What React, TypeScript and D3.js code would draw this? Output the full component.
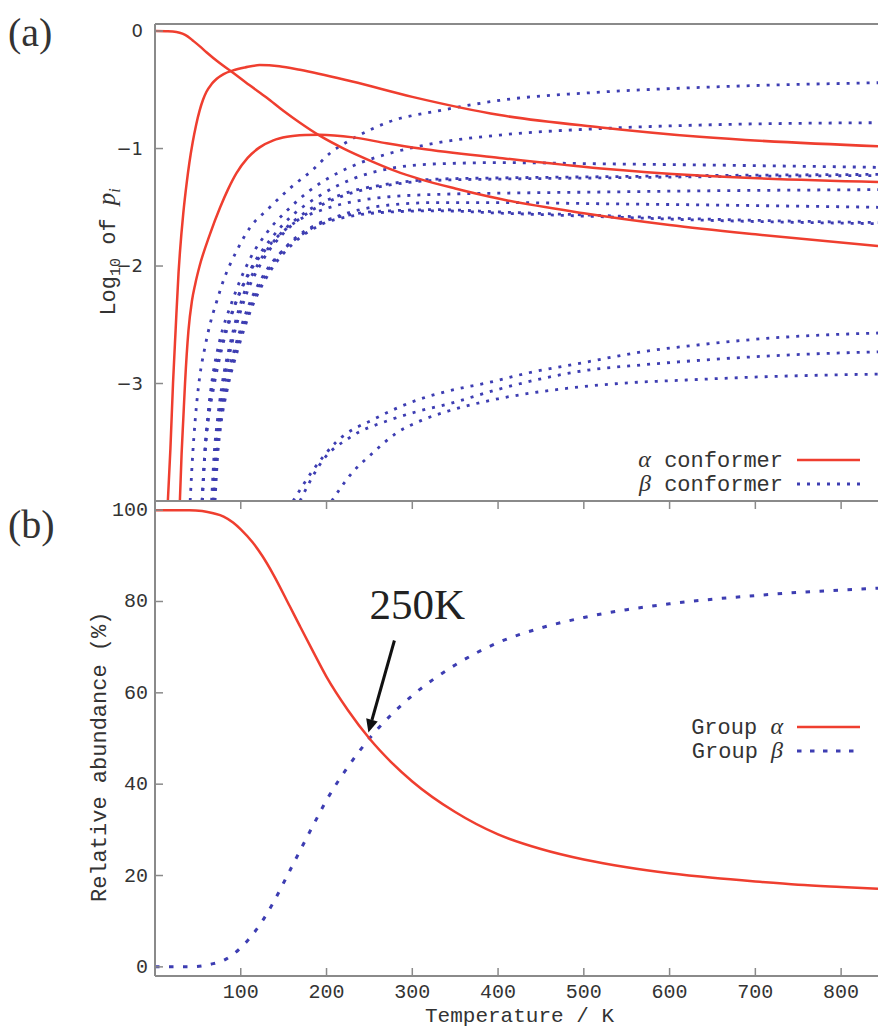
import { useEffect, useRef } from "react";
import * as d3 from "d3";

// ---------- panel (a): log10 of p_i, alpha conformers (solid red) ----------
const alpha1T = [0, 15, 25, 32, 38, 44, 52, 60, 75, 91, 110, 130, 150, 169, 192, 220, 250, 280, 309, 350, 403, 500, 600, 700, 843];
const alpha1V = [0, -0.002, -0.008, -0.022, -0.045, -0.08, -0.128, -0.18, -0.27, -0.355, -0.46, -0.565, -0.68, -0.78, -0.89, -1.0, -1.1, -1.19, -1.26, -1.34, -1.43, -1.55, -1.65, -1.73, -1.83];

const alpha2T = [15, 18, 21, 24, 27.5, 29, 33, 37, 40, 44, 48, 52, 56, 60, 66, 72, 80, 91, 105, 122, 145, 169, 230, 300, 402, 520, 635, 843];
const alpha2V = [-4, -3.55, -3.0, -2.55, -2.05, -1.89, -1.55, -1.29, -1.125, -0.945, -0.797, -0.677, -0.585, -0.517, -0.451, -0.406, -0.366, -0.335, -0.31, -0.29, -0.3, -0.33, -0.43, -0.56, -0.715, -0.82, -0.9, -0.98];

const alpha3T = [29, 31, 33, 35, 39, 43, 47, 52, 64, 76, 85, 95, 108, 122, 138, 154, 175, 192, 231, 270, 309, 402, 520, 635, 843];
const alpha3V = [-4, -3.6, -3.3, -3.0, -2.55, -2.3, -2.15, -2.0, -1.73, -1.5, -1.35, -1.21, -1.08, -0.99, -0.93, -0.9, -0.885, -0.882, -0.905, -0.955, -1.0, -1.08, -1.17, -1.23, -1.285];

// ---------- panel (a): beta conformers (dotted blue) ----------
const beta1T = [41, 44, 47, 52, 58, 64, 72, 79, 96, 111, 131, 157, 184, 204, 227, 251, 274, 330, 402, 519, 635, 843];
const beta1V = [-4, -3.6, -3.3, -2.95, -2.7, -2.5, -2.3, -2.14, -1.86, -1.67, -1.52, -1.34, -1.18, -1.04, -0.93, -0.84, -0.77, -0.68, -0.59, -0.52, -0.48, -0.44];

const beta2T = [55, 58, 62, 67, 75, 90, 110, 130, 155, 180, 210, 240, 274, 330, 402, 520, 635, 843];
const beta2V = [-4, -3.6, -3.25, -2.95, -2.65, -2.3, -1.95, -1.72, -1.52, -1.36, -1.22, -1.12, -1.04, -0.95, -0.885, -0.83, -0.8, -0.78];

const beta3T = [55, 58, 62, 67, 77, 92, 112, 135, 160, 190, 230, 274, 330, 402, 520, 640, 843];
const beta3V = [-4, -3.6, -3.28, -3.0, -2.68, -2.35, -2.02, -1.77, -1.57, -1.41, -1.26, -1.17, -1.13, -1.12, -1.13, -1.14, -1.16];

const beta4T = [68, 71, 75, 80, 90, 105, 125, 150, 180, 220, 274, 330, 402, 520, 640, 843];
const beta4V = [-4, -3.6, -3.3, -3.02, -2.65, -2.27, -1.96, -1.72, -1.54, -1.4, -1.31, -1.27, -1.26, -1.25, -1.24, -1.23];

const beta5T = [66, 69, 73, 78, 88, 102, 122, 147, 178, 218, 274, 330, 402, 520, 640, 843];
const beta5V = [-4, -3.6, -3.3, -3.02, -2.65, -2.27, -1.96, -1.72, -1.53, -1.39, -1.3, -1.26, -1.25, -1.24, -1.23, -1.22];

const beta6T = [55, 58, 62, 68, 78, 92, 110, 135, 165, 200, 240, 274, 330, 402, 520, 640, 843];
const beta6V = [-4, -3.62, -3.32, -3.05, -2.7, -2.36, -2.06, -1.81, -1.62, -1.51, -1.44, -1.41, -1.39, -1.38, -1.37, -1.36, -1.35];

const beta7T = [68, 71, 75, 81, 93, 108, 128, 150, 180, 220, 274, 330, 402, 520, 640, 843];
const beta7V = [-4, -3.6, -3.32, -3.05, -2.7, -2.36, -2.06, -1.86, -1.69, -1.56, -1.48, -1.46, -1.46, -1.47, -1.48, -1.5];

const beta8T = [69, 72, 76, 83, 95, 110, 130, 155, 190, 230, 274, 330, 402, 520, 640, 843];
const beta8V = [-4, -3.62, -3.34, -3.06, -2.7, -2.37, -2.06, -1.82, -1.64, -1.56, -1.53, -1.52, -1.54, -1.57, -1.6, -1.63];

const beta9T = [70, 73, 77, 84, 97, 112, 133, 158, 193, 233, 274, 330, 402, 520, 640, 843];
const beta9V = [-4, -3.62, -3.34, -3.06, -2.7, -2.37, -2.06, -1.83, -1.65, -1.57, -1.54, -1.53, -1.55, -1.58, -1.61, -1.64];

const beta10T = [161, 184, 211, 259, 306, 344, 390, 435, 501, 568, 635, 724, 843];
const beta10V = [-4, -3.74, -3.5, -3.29, -3.14, -3.06, -2.99, -2.91, -2.82, -2.73, -2.67, -2.61, -2.57];

const beta11T = [169, 196, 227, 274, 305, 344, 400, 450, 501, 570, 640, 730, 843];
const beta11V = [-4, -3.65, -3.46, -3.31, -3.24, -3.17, -3.05, -2.96, -2.89, -2.84, -2.8, -2.76, -2.73];

const beta12T = [206, 231, 251, 282, 312, 344, 400, 470, 540, 620, 720, 843];
const beta12V = [-4, -3.75, -3.61, -3.42, -3.31, -3.23, -3.13, -3.05, -3.0, -2.97, -2.94, -2.92];

// ---------- panel (b): relative abundance (%) ----------
const groupT = [0, 20, 40, 55, 68, 80, 91, 100, 114, 125, 138, 157, 169, 185, 200, 225, 250, 275, 300, 350, 400, 450, 500, 550, 600, 650, 700, 750, 800, 843];
const groupAlpha = [100, 100, 100, 99.8, 99.3, 98.6, 97.3, 95.8, 92.9, 90.0, 85.9, 79.0, 74.6, 68.8, 63.5, 56.2, 50.0, 44.9, 40.6, 33.9, 29.0, 25.8, 23.5, 21.8, 20.5, 19.5, 18.7, 18.0, 17.5, 17.1];
const groupBeta = [0, 0, 0, 0.2, 0.7, 1.4, 2.7, 4.2, 7.1, 10.0, 14.1, 21.0, 25.4, 31.2, 36.5, 43.8, 50.0, 55.1, 59.4, 66.1, 71.0, 74.2, 76.5, 78.2, 79.5, 80.5, 81.3, 82.0, 82.5, 82.9];

const xTicks = [100, 200, 300, 400, 500, 600, 700, 800];
const yTicksA = [0, -1, -2, -3];
const yTicksB = [0, 20, 40, 60, 80, 100];
const crossT = 250;
const crossV = 50;

const RED = "#ef3e2f";
const BLUE = "#3d3db2";
const FRAME = "#8a8a8a";
const TXT = "#333";
const MONO = "'Liberation Mono', 'Courier New', monospace";
const SERIF = "'Liberation Serif', 'Times New Roman', serif";
const SANS = "'DejaVu Sans', sans-serif";

export default function App() {
  const svgRef = useRef<SVGSVGElement>(null);

  useEffect(() => {
    const svg = d3.select(svgRef.current);
    svg.selectAll("*").remove();

    const x = d3.scaleLinear().domain([0, 850]).range([155, 884]);
    const yA = d3.scaleLinear().domain([-4, 0.06]).range([501, 24]);
    const yB = d3.scaleLinear().domain([-2, 102]).range([976, 501]);

    const zip = (ts: number[], vs: number[]) => ts.map((t, i) => [t, vs[i]] as [number, number]);

    const defs = svg.append("defs");
    defs.append("clipPath").attr("id", "clipA").append("rect")
      .attr("x", 156).attr("y", 25).attr("width", 730).attr("height", 475);
    defs.append("clipPath").attr("id", "clipB").append("rect")
      .attr("x", 156).attr("y", 502).attr("width", 730).attr("height", 473);

    const lineA = d3.line<[number, number]>().x((d) => x(d[0])).y((d) => yA(d[1])).curve(d3.curveMonotoneX);
    const lineB = d3.line<[number, number]>().x((d) => x(d[0])).y((d) => yB(d[1])).curve(d3.curveMonotoneX);

    // panel (a) curves
    const gA = svg.append("g").attr("clip-path", "url(#clipA)");
    const betaCurves = [
      zip(beta1T, beta1V), zip(beta2T, beta2V), zip(beta3T, beta3V), zip(beta4T, beta4V),
      zip(beta5T, beta5V), zip(beta6T, beta6V), zip(beta7T, beta7V), zip(beta8T, beta8V),
      zip(beta9T, beta9V), zip(beta10T, beta10V), zip(beta11T, beta11V), zip(beta12T, beta12V),
    ];
    gA.selectAll("path.beta").data(betaCurves).enter().append("path")
      .attr("class", "beta")
      .attr("d", (d) => lineA(d))
      .attr("fill", "none").attr("stroke", BLUE).attr("stroke-width", 2.8)
      .attr("stroke-dasharray", "3 7");
    const alphaCurves = [zip(alpha1T, alpha1V), zip(alpha2T, alpha2V), zip(alpha3T, alpha3V)];
    gA.selectAll("path.alpha").data(alphaCurves).enter().append("path")
      .attr("class", "alpha")
      .attr("d", (d) => lineA(d))
      .attr("fill", "none").attr("stroke", RED).attr("stroke-width", 2.5);

    // panel (b) curves
    const gB = svg.append("g").attr("clip-path", "url(#clipB)");
    gB.append("path").attr("d", lineB(zip(groupT, groupBeta)))
      .attr("fill", "none").attr("stroke", BLUE).attr("stroke-width", 3)
      .attr("stroke-dasharray", "4.5 9.5");
    gB.append("path").attr("d", lineB(zip(groupT, groupAlpha)))
      .attr("fill", "none").attr("stroke", RED).attr("stroke-width", 2.5);

    // frames
    const fr = svg.append("g").attr("stroke", FRAME).attr("stroke-width", 2);
    fr.append("line").attr("x1", x(0)).attr("x2", x(0)).attr("y1", yA(0.06)).attr("y2", yB(-2));
    fr.append("line").attr("x1", x(0)).attr("x2", 878).attr("y1", yA(0.06)).attr("y2", yA(0.06));
    fr.append("line").attr("x1", x(0)).attr("x2", 878).attr("y1", yA(-4)).attr("y2", yA(-4));
    fr.append("line").attr("x1", x(0)).attr("x2", 878).attr("y1", yB(-2)).attr("y2", yB(-2));

    // ticks
    const tk = svg.append("g").attr("stroke", FRAME).attr("stroke-width", 1.5);
    yTicksA.forEach((t) => {
      tk.append("line").attr("x1", x(0)).attr("x2", x(0) + 8).attr("y1", yA(t)).attr("y2", yA(t));
    });
    yTicksB.forEach((t) => {
      tk.append("line").attr("x1", x(0)).attr("x2", x(0) + 8).attr("y1", yB(t)).attr("y2", yB(t));
    });
    xTicks.forEach((t) => {
      tk.append("line").attr("x1", x(t)).attr("x2", x(t)).attr("y1", yB(-2)).attr("y2", yB(-2) - 8);
      tk.append("line").attr("x1", x(t)).attr("x2", x(t)).attr("y1", yA(-4)).attr("y2", yA(-4) + 8);
    });

    // tick labels
    svg.append("g").selectAll("text").data(yTicksA).enter().append("text")
      .attr("x", 143).attr("y", (d) => yA(d) + 6)
      .attr("text-anchor", "end").attr("font-family", SANS).attr("font-size", 18).attr("fill", TXT)
      .text((d) => (d < 0 ? "\u2212" + Math.abs(d) : String(d)));
    svg.append("g").selectAll("text").data(yTicksB).enter().append("text")
      .attr("x", 148).attr("y", (d) => yB(d) + 6)
      .attr("text-anchor", "end").attr("font-family", MONO).attr("font-size", 20).attr("fill", TXT)
      .text((d) => String(d));
    svg.append("g").selectAll("text").data(xTicks).enter().append("text")
      .attr("x", (d) => x(d)).attr("y", 998)
      .attr("text-anchor", "middle").attr("font-family", MONO).attr("font-size", 20).attr("fill", TXT)
      .text((d) => String(d));

    // axis titles
    svg.append("text").attr("x", x(425)).attr("y", 1022)
      .attr("text-anchor", "middle").attr("font-family", MONO).attr("font-size", 21).attr("fill", TXT)
      .text("Temperature / K");
    svg.append("text").attr("transform", `translate(106, ${yB(46)}) rotate(-90)`)
      .attr("text-anchor", "middle").attr("font-family", MONO).attr("font-size", 22).attr("fill", TXT)
      .text("Relative abundance (%)");
    const ta = svg.append("text").attr("transform", `translate(115, ${yA(-1.88)}) rotate(-90)`)
      .attr("text-anchor", "middle").attr("font-family", MONO).attr("font-size", 22).attr("fill", TXT);
    ta.append("tspan").text("Log");
    ta.append("tspan").attr("font-size", 15).attr("dy", 5).text("10");
    ta.append("tspan").attr("dy", -5).text(" of ");
    ta.append("tspan").attr("font-family", SERIF).attr("font-style", "italic").attr("font-size", 25).text("p");
    ta.append("tspan").attr("font-family", SERIF).attr("font-style", "italic").attr("font-size", 16).attr("dy", 5).text("i");

    // panel labels
    svg.append("text").attr("x", 8).attr("y", 46).attr("font-family", SERIF).attr("font-size", 40).attr("fill", TXT).text("(a)");
    svg.append("text").attr("x", 8).attr("y", 538).attr("font-family", SERIF).attr("font-size", 40).attr("fill", TXT).text("(b)");

    // legends
    const legend = (yy: number, greek: string, label: string, prefix: boolean, color: string, dash: string | null, w: number) => {
      const t = svg.append("text").attr("x", 783).attr("y", yy + 7)
        .attr("text-anchor", "end").attr("font-family", MONO).attr("font-size", 22).attr("fill", TXT);
      if (prefix) {
        t.append("tspan").attr("font-family", SERIF).attr("font-style", "italic").attr("font-size", 24).text(greek);
        t.append("tspan").text(" " + label);
      } else {
        t.append("tspan").text(label + " ");
        t.append("tspan").attr("font-family", SERIF).attr("font-style", "italic").attr("font-size", 24).text(greek);
      }
      const l = svg.append("line").attr("x1", 797).attr("x2", 860).attr("y1", yy).attr("y2", yy)
        .attr("stroke", color).attr("stroke-width", w);
      if (dash) l.attr("stroke-dasharray", dash);
    };
    legend(460, "\u03b1", "conformer", true, RED, null, 2.5);
    legend(484, "\u03b2", "conformer", true, BLUE, "3 7", 2.8);
    legend(727, "\u03b1", "Group", false, RED, null, 2.5);
    legend(751, "\u03b2", "Group", false, BLUE, "4.5 8.5", 3);

    // 250K annotation
    const tipX = x(crossT) - 1;
    const tipY = yB(crossV) - 6;
    const sx = tipX + 26;
    const sy = tipY - 92;
    const len = Math.hypot(sx - tipX, sy - tipY);
    const ux = (tipX - sx) / len;
    const uy = (tipY - sy) / len;
    const bx = tipX - ux * 13;
    const by = tipY - uy * 13;
    svg.append("line").attr("x1", sx).attr("y1", sy).attr("x2", bx).attr("y2", by)
      .attr("stroke", "#111").attr("stroke-width", 3);
    svg.append("polygon")
      .attr("points", `${tipX},${tipY} ${bx - uy * 6},${by + ux * 6} ${bx + uy * 6},${by - ux * 6}`)
      .attr("fill", "#111");
    svg.append("text").attr("x", x(crossT)).attr("y", sy - 22)
      .attr("font-family", SERIF).attr("font-size", 43).attr("fill", "#222").text("250K");
  }, []);

  return (
    <svg
      ref={svgRef}
      width={878}
      height={1029}
      style={{ position: "absolute", left: 0, top: 0, background: "#fff" }}
    />
  );
}
